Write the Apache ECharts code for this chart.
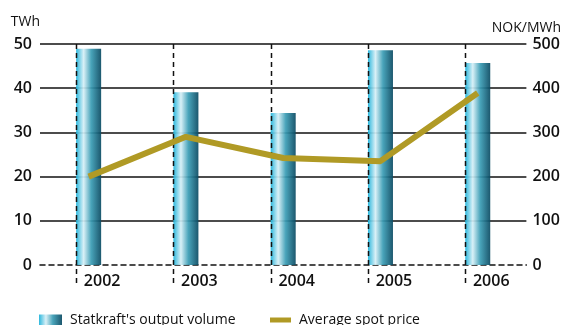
<!DOCTYPE html>
<html>
<head>
<meta charset="utf-8">
<script src="https://cdn.jsdelivr.net/npm/echarts@6/dist/echarts.min.js"></script>
<style>
  html, body { margin: 0; padding: 0; background: #fff; }
  #chart { width: 564px; height: 325px; }
</style>
</head>
<body>
<div id="chart"></div>
<script>
// Statkraft production and Nordic spot price, 2002-2006
const years = ['2002', '2003', '2004', '2005', '2006'];
const outputTWh = [48.9, 39.1, 34.4, 48.6, 45.7];
const spotPrice = [200, 290, 242, 235, 389];
const leftTicks = { min: 0, max: 50, interval: 10 };
const rightTicks = { min: 0, max: 500, interval: 100 };

const BAR_W = 25;
const FONT = '"Open Sans", "DejaVu Sans", sans-serif';

const barGradient = new echarts.graphic.LinearGradient(0, 0, 1, 0, [
  { offset: 0, color: '#1db2da' },
  { offset: 0.3, color: '#d6eff6' },
  { offset: 0.6, color: '#3b9db5' },
  { offset: 1, color: '#0b4b63' }
]);

const chart = echarts.init(document.getElementById('chart'), null, { renderer: 'canvas' });

chart.setOption({
  animation: false,
  grid: { left: 40, right: 37, top: 44, bottom: 60 },
  legend: [
    {
      data: ["Statkraft's output volume"],
      left: 39, top: 313, padding: 0,
      icon: 'rect', itemWidth: 23, itemHeight: 11,
      textStyle: { fontFamily: FONT, fontSize: 14, color: '#111', padding: [0, 0, 0, 3] }
    },
    {
      data: ['Average spot price'],
      left: 270, top: 313, padding: 0,
      icon: 'rect', itemWidth: 21, itemHeight: 5,
      textStyle: { fontFamily: FONT, fontSize: 14, color: '#111', padding: [0, 0, 0, 3] }
    }
  ],
  xAxis: {
    type: 'category',
    data: years,
    axisLine: { show: true, lineStyle: { color: '#111', width: 1.5, type: [5, 4] } },
    axisTick: { show: false },
    axisLabel: {
      fontFamily: FONT, fontSize: 16, fontWeight: 600, color: '#111',
      margin: 8, padding: [0, 0, 0, 27]
    },
    splitLine: { show: false }
  },
  yAxis: [
    {
      type: 'value',
      min: leftTicks.min, max: leftTicks.max, interval: leftTicks.interval,
      name: 'TWh', nameLocation: 'end', nameGap: 15,
      nameTextStyle: { fontFamily: FONT, fontSize: 14, color: '#111', align: 'right' },
      axisLine: { show: false },
      axisTick: { show: false },
      axisLabel: { fontFamily: FONT, fontSize: 16, fontWeight: 600, color: '#111', margin: 8 },
      splitLine: { show: true, showMinLine: false, lineStyle: { color: '#111', width: 1.5 } }
    },
    {
      type: 'value',
      position: 'right',
      min: rightTicks.min, max: rightTicks.max, interval: rightTicks.interval,
      name: 'NOK/MWh', nameLocation: 'end', nameGap: 9,
      nameTextStyle: { fontFamily: FONT, fontSize: 14, color: '#111', align: 'center' },
      axisLine: { show: false },
      axisTick: { show: false },
      axisLabel: { fontFamily: FONT, fontSize: 16, fontWeight: 600, color: '#111', margin: 6 },
      splitLine: { show: false }
    }
  ],
  series: [
    {
      name: "Statkraft's output volume",
      type: 'bar',
      data: outputTWh,
      barWidth: BAR_W,
      itemStyle: { color: barGradient, opacity: 0.93 },
      z: 2
    },
    {
      // dashed guide at the left edge of each bar, running below the axis
      name: 'guides',
      type: 'custom',
      data: years.map((y, i) => i),
      z: 4,
      silent: true,
      renderItem: function (params, api) {
        const base = api.coord([api.value(0), 0]);
        const x = Math.round(base[0] - BAR_W / 2) + 0.5;
        return {
          type: 'line',
          shape: { x1: x, y1: params.coordSys.y, x2: x, y2: base[1] + 20 },
          style: { stroke: '#111', lineWidth: 1.5, lineDash: [5, 4] }
        };
      }
    },
    {
      name: 'Average spot price',
      type: 'line',
      yAxisIndex: 1,
      data: spotPrice,
      symbol: 'none',
      lineStyle: { color: '#b09a25', width: 6 },
      itemStyle: { color: '#b09a25' },
      z: 5
    }
  ]
});
</script>
</body>
</html>
